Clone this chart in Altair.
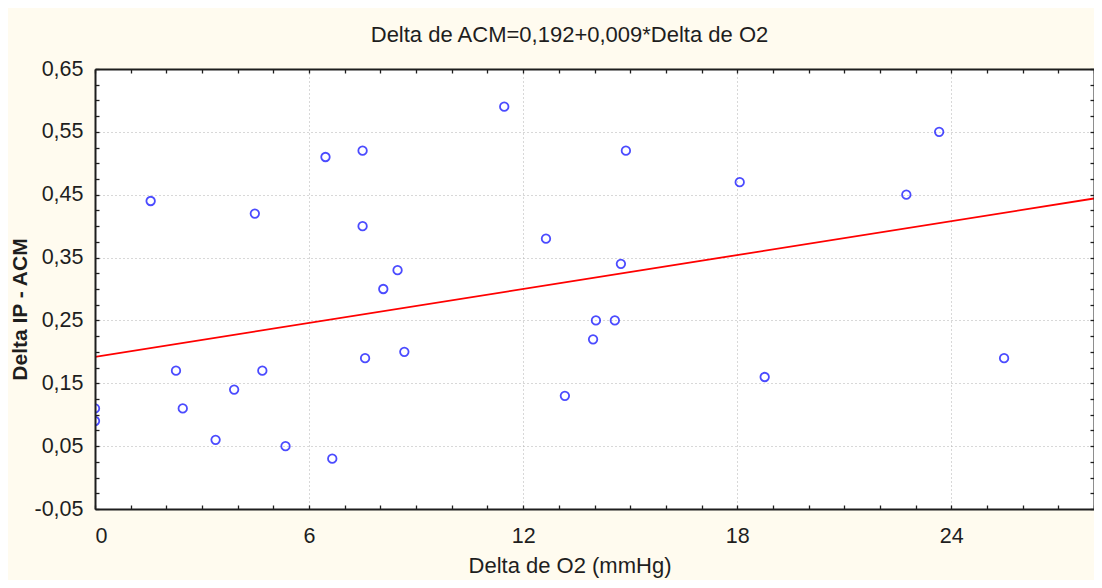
import altair as alt
import pandas as pd

# ---- data ----
delta_o2 = [0.0, 0.0, 1.56, 2.27, 2.46, 3.38, 3.90, 4.48, 4.69, 5.34, 6.46, 6.65,
            7.50, 7.50, 7.57, 8.08, 8.48, 8.67, 11.47, 12.64, 13.17, 13.96, 14.04,
            14.57, 14.74, 14.88, 18.07, 18.77, 22.74, 23.66, 25.48]
delta_ip = [0.11, 0.09, 0.44, 0.17, 0.11, 0.06, 0.14, 0.42, 0.17, 0.05, 0.51, 0.03,
            0.52, 0.40, 0.19, 0.30, 0.33, 0.20, 0.59, 0.38, 0.13, 0.22, 0.25,
            0.25, 0.34, 0.52, 0.47, 0.16, 0.45, 0.55, 0.19]

intercept = 0.192
slope = 0.009
line_x = [0, 28]

x_major = [0, 6, 12, 18, 24]
x_minor = list(range(0, 29))
y_major = [-0.05, 0.05, 0.15, 0.25, 0.35, 0.45, 0.55, 0.65]
y_minor = [round(-0.05 + 0.025 * i, 3) for i in range(29)]

title_text = "Delta de ACM=0,192+0,009*Delta de O2"
x_title = "Delta de O2 (mmHg)"
y_title = "Delta IP - ACM"

pts = pd.DataFrame({"x": delta_o2, "y": delta_ip})
ln = pd.DataFrame({"x": line_x})
ln["y"] = intercept + slope * ln["x"]

W, H = 999, 440
FONT = "Liberation Sans"
INK = "#1e1e1e"

xs = alt.Scale(domain=[0, 28], nice=False, zero=False)
ys = alt.Scale(domain=[-0.05, 0.65], nice=False, zero=False)

comma = "replace(replace(format(datum.value, '.2f'), '.', ','), '\u2212', '-')"

points = alt.Chart(pts).mark_point(
    shape="circle", filled=False, color="#0000ff", size=72, strokeWidth=1.8, clip=True
).encode(
    x=alt.X("x:Q", scale=xs, axis=alt.Axis(
        orient="bottom", values=x_major, grid=True, gridColor="#b0b0b0",
        gridDash=[1, 3], gridWidth=1,
        gridOpacity={"condition": {"test": "datum.value == 0", "value": 0}, "value": 1},
        ticks=False, tickSize=0, domain=False, labelFontSize=21.5, labelColor=INK,
        labelPadding=16, labelFont=FONT, format="d",
        title=x_title, titleFont=FONT, titleFontSize=22, titleFontWeight="normal",
        titleColor=INK, titleX=W / 2 - 25, titleY=56, titleBaseline="middle",
        titleAnchor="middle")),
    y=alt.Y("y:Q", scale=ys, axis=alt.Axis(
        orient="left", values=y_major, grid=True, gridColor="#b0b0b0",
        gridDash=[1, 3], gridWidth=1,
        gridOpacity={"condition": {"test": "datum.value <= -0.049 || datum.value >= 0.649", "value": 0}, "value": 1},
        ticks=False, tickSize=0, domain=False, labelFontSize=21.5, labelColor=INK,
        labelPadding=12, labelFont=FONT, labelExpr=comma,
        title=y_title, titleFont=FONT, titleFontSize=21, titleFontWeight="bold",
        titleColor=INK, titleX=-75, titleY=240, titleAngle=270,
        titleBaseline="middle", titleAlign="center")),
)

edge_common = dict(labels=False, grid=False, title=None, domain=True,
                   domainColor=INK, domainWidth=2, ticks=True,
                   tickSize=alt.ExprRef("-4"),
                   tickColor=INK, tickWidth=1.3, zindex=2)

line = alt.Chart(ln).mark_line(color="#ff0000", strokeWidth=1.8, clip=True).encode(
    x=alt.X("x:Q", scale=xs, axis=alt.Axis(orient="top", values=x_minor, **edge_common)),
    y=alt.Y("y:Q", scale=ys, axis=alt.Axis(orient="right", values=y_minor, **edge_common)),
)

ghost = alt.Chart(ln).mark_line(opacity=0).encode(
    x=alt.X("x:Q", scale=xs, axis=alt.Axis(orient="bottom", values=x_minor, **edge_common)),
    y=alt.Y("y:Q", scale=ys, axis=alt.Axis(orient="left", values=y_minor, **edge_common)),
)

chart = alt.layer(points, line, ghost).resolve_axis(
    x="independent", y="independent"
).properties(
    width=W, height=H,
    autosize=alt.AutoSizeParams(type="none"),
    padding={"left": 87, "top": 61, "right": 0, "bottom": 71},
    background="#fffbef",
    title=alt.TitleParams(text=title_text, font=FONT, fontSize=22, fontWeight="normal",
                          color=INK, anchor="middle", dx=-25, offset=-6,
                          baseline="alphabetic"),
).configure_view(stroke=None, fill="white")

chart.save("out.html", embed_options={"renderer": "svg", "actions": False})
